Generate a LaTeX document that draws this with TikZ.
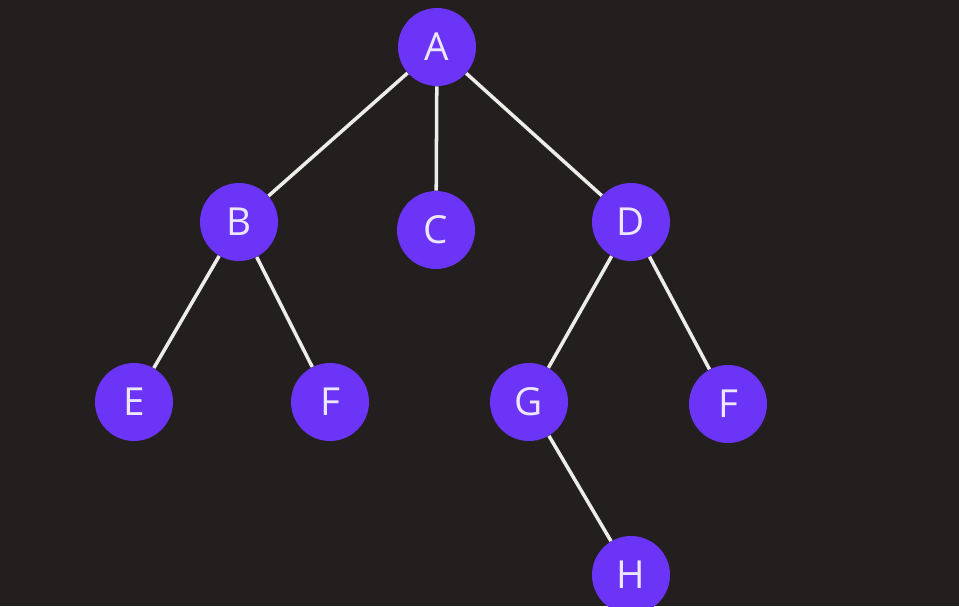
\documentclass[tikz,border=0pt]{standalone}
\usepackage{fontspec}
\setsansfont{Open Sans}
\usepackage{tikz}
\definecolor{bgdark}{RGB}{34,31,30}
\definecolor{nodepurple}{RGB}{108,52,246}
\definecolor{nodetext}{RGB}{236,230,255}
\definecolor{edgegray}{RGB}{236,236,232}
\tikzstyle{treenode} = [circle, fill=nodepurple, minimum size=1.56cm, inner sep=0pt, text=nodetext, font=\sffamily\fontsize{22}{22}\selectfont]
\tikzstyle{edge} = [draw=edgegray, line width=2pt]

\begin{document}
\begin{tikzpicture}[x=0.02cm, y=-0.02cm] % one unit = one pixel of the screenshot

% Background and frame
\fill[bgdark] (0,0) rectangle (959,606);
\clip (0,0) rectangle (959,606);
\useasboundingbox (0,0) rectangle (959,606);

% Place the nodes of the tree
\node(a)   [treenode] at (437,47)  {A};
\node(b)   [treenode] at (239,222) {B};
\node(c)   [treenode] at (436,230) {C};
\node(d)   [treenode] at (631,222) {D};
\node(e)   [treenode] at (134,402) {E};
\node(f1)  [treenode] at (330,402) {F};
\node(g)   [treenode] at (529,402) {G};
\node(f2)  [treenode] at (728,404) {F};
\node(h)   [treenode] at (631,575) {H};

% Connect parents and children
\draw [edge] (a) -- (b);
\draw [edge] (a) -- (c);
\draw [edge] (a) -- (d);
\draw [edge] (b) -- (e);
\draw [edge] (b) -- (f1);
\draw [edge] (d) -- (g);
\draw [edge] (d) -- (f2);
\draw [edge] (g) -- (h);

\end{tikzpicture}
\end{document}
